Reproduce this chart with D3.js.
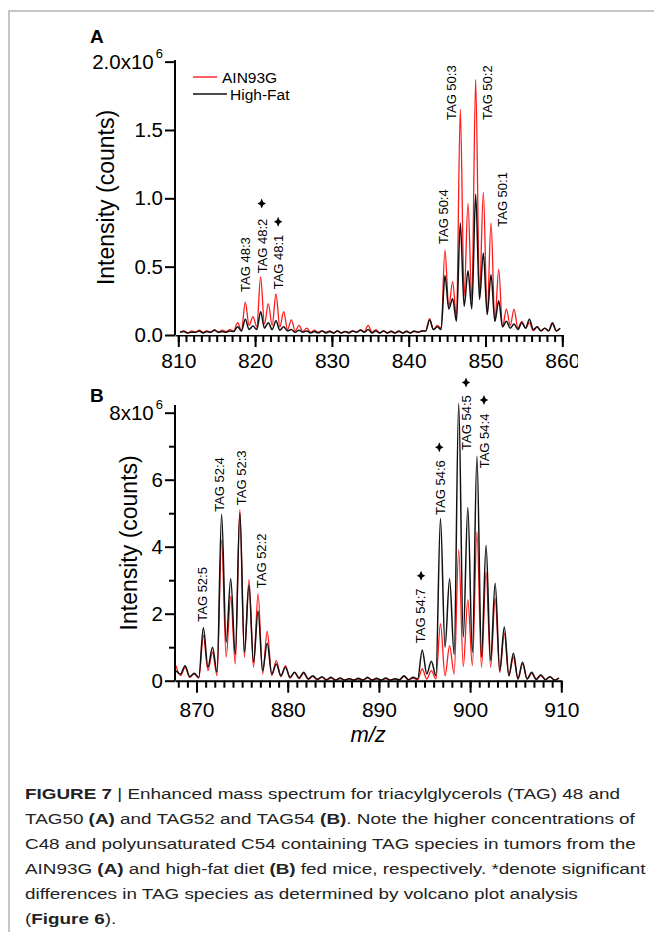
<!DOCTYPE html>
<html>
<head>
<meta charset="utf-8"/>
<title>TAG mass spectra</title>
<script src="https://cdnjs.cloudflare.com/ajax/libs/d3/7.8.5/d3.min.js"></script>
<style>
  body { margin: 0; background: #fff; }
  svg { display: block; font-family: "Liberation Sans", Arial, sans-serif; }
  .spec { fill: none; stroke-linejoin: round; }
  .tag { font-size: 13px; fill: #000; }
  .axis path, .axis line { stroke: #000; stroke-width: 2px; }
</style>
</head>
<body>
<script>

// intensities in units of 1e6 counts, sampled every 0.5 m/z:
// first value at the start m/z, then (valley, peak) per nominal mass
var startA = 810.22;
var redA = [
  0.02, 0.03,   0.015, 0.03,  0.02, 0.035,  0.02, 0.03,   0.02, 0.04,     // 810-814
  0.02, 0.035,  0.025, 0.04,  0.03, 0.09,   0.03, 0.24,   0.07, 0.135,    // 815-819
  0.06, 0.425,  0.08, 0.23,   0.07, 0.30,   0.06, 0.17,   0.04, 0.11,     // 820-824
  0.03, 0.07,   0.025, 0.05,  0.02, 0.035,  0.02, 0.03,   0.02, 0.03,     // 825-829
  0.015, 0.03,  0.015, 0.025, 0.02, 0.03,   0.02, 0.04,   0.025, 0.07,    // 830-834
  0.02, 0.04,   0.015, 0.03,  0.015, 0.03,  0.015, 0.025, 0.015, 0.03,    // 835-839
  0.015, 0.025, 0.02, 0.03,   0.03, 0.12,   0.04, 0.07,   0.05, 0.62,     // 840-844
  0.21, 0.39,   0.13, 1.65,   0.285, 0.965, 0.26, 1.87,   0.30, 1.045,    // 845-849
  0.15, 0.82,   0.10, 0.48,   0.06, 0.19,   0.07, 0.19,   0.05, 0.10,     // 850-854
  0.05, 0.09,   0.03, 0.06,   0.03, 0.05,   0.03, 0.08,   0.03, 0.05      // 855-859
];
var blackA = [
  0.02, 0.025,  0.015, 0.02,  0.02, 0.03,   0.015, 0.025, 0.02, 0.035,
  0.02, 0.025,  0.02, 0.03,   0.025, 0.06,  0.03, 0.115,  0.04, 0.065,
  0.04, 0.17,   0.05, 0.09,   0.04, 0.105,  0.035, 0.06,  0.03, 0.04,
  0.02, 0.035,  0.02, 0.03,   0.015, 0.025, 0.015, 0.03,  0.015, 0.025,
  0.015, 0.03,  0.015, 0.025, 0.015, 0.03,  0.02, 0.035,  0.02, 0.04,
  0.015, 0.03,  0.015, 0.03,  0.015, 0.025, 0.015, 0.03,  0.015, 0.025,
  0.015, 0.03,  0.02, 0.03,   0.03, 0.11,   0.04, 0.06,   0.04, 0.435,
  0.19, 0.265,  0.10, 0.82,   0.21, 0.47,   0.19, 1.03,   0.26, 0.60,
  0.15, 0.44,   0.10, 0.25,   0.06, 0.10,   0.05, 0.08,   0.04, 0.09,
  0.05, 0.115,  0.04, 0.06,   0.03, 0.05,   0.03, 0.09,   0.03, 0.05
];

var startB = 867.75;
var redB = [
  0.45,
  0.15, 0.40,   0.10, 0.20,   0.08, 1.35,   0.30, 0.85,   0.15, 4.20,     // 868-872
  0.70, 2.52,   0.50, 5.11,   0.70, 3.02,   0.40, 2.60,   0.20, 1.47,     // 873-877
  0.15, 0.60,   0.12, 0.45,   0.08, 0.25,   0.06, 0.22,   0.04, 0.12,     // 878-882
  0.03, 0.10,   0.02, 0.08,   0.02, 0.06,   0.02, 0.06,   0.02, 0.05,     // 883-887
  0.02, 0.08,   0.02, 0.05,   0.02, 0.06,   0.02, 0.05,   0.02, 0.12,     // 888-892
  0.02, 0.08,   0.03, 0.35,   0.05, 0.30,   0.05, 1.70,   0.15, 1.05,     // 893-897
  0.20, 3.91,   0.42, 2.42,   0.45, 4.44,   0.40, 3.24,   0.40, 2.45,     // 898-902
  0.25, 1.42,   0.15, 0.70,   0.05, 0.50,   0.05, 0.22,   0.04, 0.15,     // 903-907
  0.03, 0.12,   0.02, 0.08                                                 // 908-909
];
var blackB = [
  0.30,
  0.20, 0.45,   0.12, 0.22,   0.10, 1.58,   0.40, 1.00,   0.25, 4.97,
  1.15, 3.04,   0.78, 5.01,   0.85, 2.85,   0.55, 2.08,   0.30, 1.12,
  0.20, 0.50,   0.15, 0.40,   0.10, 0.25,   0.08, 0.25,   0.05, 0.15,
  0.04, 0.12,   0.03, 0.10,   0.02, 0.08,   0.02, 0.06,   0.02, 0.07,
  0.02, 0.10,   0.02, 0.07,   0.02, 0.08,   0.02, 0.06,   0.03, 0.15,
  0.03, 0.10,   0.05, 0.92,   0.20, 0.58,   0.15, 4.84,   1.00, 3.04,
  0.78, 8.28,   1.30, 5.17,   0.85, 6.70,   0.70, 4.04,   0.60, 2.91,
  0.30, 1.60,   0.15, 0.82,   0.05, 0.55,   0.05, 0.25,   0.04, 0.18,
  0.03, 0.12,   0.02, 0.08
];

// peak labels: m/z and intensity where the rotated text starts
var tagsA = [
  { text: "TAG 48:3", mz: 818.78, y: 0.315 },
  { text: "TAG 48:2", mz: 821.0,  y: 0.451 },
  { text: "TAG 48:1", mz: 823.0,  y: 0.334 },
  { text: "TAG 50:4", mz: 844.5,  y: 0.666 },
  { text: "TAG 50:3", mz: 845.6,  y: 1.573 },
  { text: "TAG 50:2", mz: 850.23, y: 1.573 },
  { text: "TAG 50:1", mz: 852.19, y: 0.792 }
];
var starsA = [ { mz: 820.86, y: 0.963 }, { mz: 823.0, y: 0.829 } ];

var tagsB = [
  { text: "TAG 52:5", mz: 870.64, y: 1.76 },
  { text: "TAG 52:4", mz: 872.47, y: 5.04 },
  { text: "TAG 52:3", mz: 874.88, y: 5.24 },
  { text: "TAG 52:2", mz: 877.15, y: 2.76 },
  { text: "TAG 54:7", mz: 894.58, y: 1.12 },
  { text: "TAG 54:6", mz: 896.7,  y: 4.95 },
  { text: "TAG 54:5", mz: 899.55, y: 6.89 },
  { text: "TAG 54:4", mz: 901.52, y: 6.34 }
];
var starsB = [
  { mz: 894.62, y: 3.13 }, { mz: 896.62, y: 6.97 },
  { mz: 899.55, y: 8.9 },  { mz: 901.52, y: 8.38 }
];

var xMajorA = [810, 820, 830, 840, 850, 860];
var yTicksA = [0, 0.5, 1, 1.5, 2];
var yLabelsA = ["0.0", "0.5", "1.0", "1.5", "2.0x10"];
var xMajorB = [870, 880, 890, 900, 910];
var yTicksB = [0, 2, 4, 6, 8];
var yMinorB = [1, 3, 5, 7];
var yLabelsB = ["0", "2", "4", "6", "8x10"];

var legendNames = ["AIN93G", "High-Fat"];
var seriesColors = ["#ff1a1a", "#111"];

var caption = [
  [["FIGURE 7", 1], [" | Enhanced mass spectrum for triacylglycerols (TAG) 48 and", 0]],
  [["TAG50 ", 0], ["(A)", 1], [" and TAG52 and TAG54 ", 0], ["(B)", 1], [". Note the higher concentrations of", 0]],
  [["C48 and polyunsaturated C54 containing TAG species in tumors from the", 0]],
  [["AIN93G ", 0], ["(A)", 1], [" and high-fat diet ", 0], ["(B)", 1], [" fed mice, respectively. *denote significant", 0]],
  [["differences in TAG species as determined by volcano plot analysis", 0]],
  [["(", 0], ["Figure 6", 1], [").", 0]]
];

var width = 654, height = 932;
var svg = d3.select("body").append("svg")
  .attr("width", width)
  .attr("height", height);

// figure frame (left and top rule)
svg.append("path")
  .attr("d", "M9," + height + "V11H" + width)
  .attr("fill", "none")
  .attr("stroke", "#b4b4b4")
  .attr("stroke-width", 1.5);

var star4 = {
  draw: function (ctx, size) {
    var r = Math.sqrt(size) / 2, s = r * 0.3;
    ctx.moveTo(0, -r);
    ctx.lineTo(s, -s); ctx.lineTo(r * 0.85, 0); ctx.lineTo(s, s);
    ctx.lineTo(0, r); ctx.lineTo(-s, s); ctx.lineTo(-r * 0.85, 0); ctx.lineTo(-s, -s);
    ctx.closePath();
  }
};

function panel(p) {
  var x = d3.scaleLinear().domain(p.xDomain).range(p.xRange);
  var y = d3.scaleLinear().domain(p.yDomain).range(p.yRange);
  var g = svg.append("g");

  var line = d3.line()
    .x(function (d) { return x(d[0]); })
    .y(function (d) { return y(d[1]); })
    .curve(d3.curveMonotoneX);
  function pts(vals) {
    return vals.map(function (v, i) { return [p.start + i * 0.5, v]; });
  }
  [p.red, p.black].forEach(function (vals, i) {
    g.append("path")
      .datum(pts(vals))
      .attr("class", "spec")
      .attr("stroke", seriesColors[i])
      .attr("stroke-width", i === 0 ? 1.3 : 1.5)
      .attr("d", line);
  });

  // x axis: minor ticks every 1 m/z, labelled major ticks every 10
  var y0 = y(0);
  g.append("g").attr("class", "axis")
    .attr("transform", "translate(0," + y0 + ")")
    .call(d3.axisBottom(x).tickValues(d3.range(p.xMajor[0] - p.xMinorBefore, p.xDomain[1] + 0.5, 1))
      .tickSize(7).tickFormat(""))
    .call(function (s) { s.select(".domain").remove(); });
  var xa = g.append("g").attr("class", "axis")
    .attr("transform", "translate(0," + y0 + ")")
    .call(d3.axisBottom(x).tickValues(p.xMajor).tickSize(12).tickSizeOuter(0).tickPadding(p.xPad));
  xa.selectAll("text").attr("font-size", 21).attr("font-family", null).attr("fill", "#000");
  if (p.clipX) xa.attr("clip-path", "url(#" + p.clipX + ")");

  // y axis
  var ya = g.append("g").attr("class", "axis")
    .attr("transform", "translate(" + p.xRange[0] + ",0)")
    .call(d3.axisLeft(y).tickValues(p.yTicks).tickSize(10).tickSizeOuter(0).tickPadding(2)
      .tickFormat(function (d, i) { return p.yLabels[i]; }));
  ya.selectAll("text").attr("font-size", 20.5).attr("font-family", null).attr("fill", "#000");
  ya.selectAll(".tick text").filter(function (d, i) { return i === p.yTicks.length - 1; })
    .append("tspan").attr("font-size", 13).attr("dx", 2).attr("dy", "-0.8em").text("6");
  if (p.yMinor) {
    g.append("g").attr("class", "axis")
      .attr("transform", "translate(" + p.xRange[0] + ",0)")
      .call(d3.axisLeft(y).tickValues(p.yMinor).tickSize(6).tickFormat(""))
      .call(function (s) { s.select(".domain").remove(); });
  }
  ya.select(".domain").attr("d", "M0," + p.yRange[0] + "V" + p.yRange[1]);

  // y title
  g.append("text")
    .attr("transform", "translate(" + p.yTitleX + "," + ((p.yRange[0] + p.yRange[1]) / 2) + ") rotate(-90)")
    .attr("text-anchor", "middle")
    .attr("dy", "0.35em")
    .attr("font-size", 23)
    .text("Intensity (counts)");

  // panel letter
  g.append("text")
    .attr("x", 90).attr("y", p.letterY)
    .attr("font-size", 19).attr("font-weight", "bold")
    .text(p.letter);

  // peak labels and significance stars
  g.selectAll(".tag").data(p.tags).enter().append("text")
    .attr("class", "tag")
    .attr("transform", function (d) { return "translate(" + x(d.mz) + "," + y(d.y) + ") rotate(-90)"; })
    .attr("dy", "0.35em")
    .text(function (d) { return d.text; });
  g.selectAll(".star").data(p.stars).enter().append("path")
    .attr("class", "star")
    .attr("transform", function (d) { return "translate(" + x(d.mz) + "," + y(d.y) + ")"; })
    .attr("d", d3.symbol().type(star4).size(100))
    .attr("fill", "#000");

  return { x: x, y: y, g: g };
}

svg.append("clipPath").attr("id", "clipA")
  .append("rect").attr("x", 0).attr("y", 0).attr("width", 578).attr("height", height);

var A = panel({
  start: startA, red: redA, black: blackA,
  xDomain: [809.57, 860], xRange: [175, 562.3],
  yDomain: [0, 2.012], yRange: [335, 60],
  xMajor: xMajorA, xMinorBefore: 0, xPad: 6, clipX: "clipA",
  yTicks: yTicksA, yLabels: yLabelsA,
  yTitleX: 106,
  letter: "A", letterY: 43,
  tags: tagsA, stars: starsA
});

var B = panel({
  start: startB, red: redB, black: blackB,
  xDomain: [867.64, 910], xRange: [175, 561.3],
  yDomain: [0, 8.23], yRange: [680.7, 405],
  xMajor: xMajorB, xMinorBefore: 2, xPad: 9,
  yTicks: yTicksB, yMinor: yMinorB, yLabels: yLabelsB,
  yTitleX: 129,
  letter: "B", letterY: 401.5,
  tags: tagsB, stars: starsB
});

// legend (panel A)
var lg = svg.append("g");
legendNames.forEach(function (name, i) {
  var ly = 77 + i * 17;
  lg.append("line")
    .attr("x1", 193).attr("x2", i === 0 ? 217 : 227)
    .attr("y1", ly).attr("y2", ly)
    .attr("stroke", seriesColors[i]).attr("stroke-width", 1.4);
  lg.append("text")
    .attr("x", i === 0 ? 222 : 230).attr("y", ly + 5.5)
    .attr("font-size", 15.5)
    .text(name);
});

// x title
svg.append("text")
  .attr("x", (B.x.range()[0] + B.x.range()[1]) / 2)
  .attr("y", 742)
  .attr("text-anchor", "middle")
  .attr("font-size", 22)
  .attr("font-style", "italic")
  .text("m/z");

// caption: same horizontal stretch for every line, fitted on the first one
var cap = svg.append("g").attr("fill", "#222");
var capLines = caption.map(function (parts, i) {
  var t = cap.append("text")
    .attr("x", 25)
    .attr("y", 799 + i * 25)
    .attr("font-size", 15.5);
  parts.forEach(function (pt) {
    t.append("tspan")
      .attr("font-weight", pt[1] ? "bold" : null)
      .text(pt[0]);
  });
  return t;
});
var stretch = (620 - 25) / capLines[0].node().getComputedTextLength();
capLines.forEach(function (t) {
  t.attr("textLength", t.node().getComputedTextLength() * stretch)
    .attr("lengthAdjust", "spacingAndGlyphs");
});

</script>
</body>
</html>
